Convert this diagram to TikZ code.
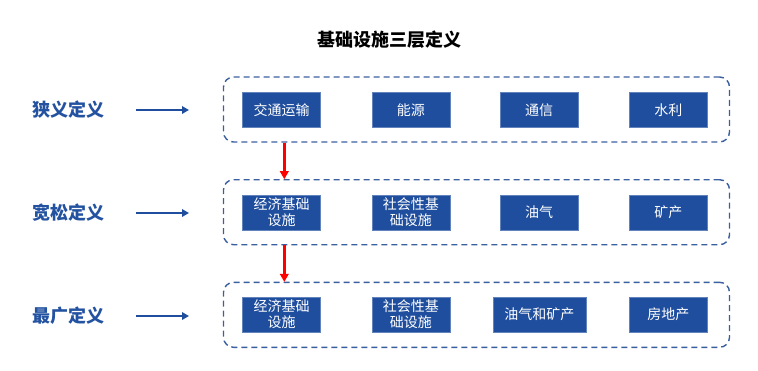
\documentclass[tikz,border=0pt]{standalone}
\usepackage{fontspec}
\newfontfamily\cjk{Noto Sans CJK SC}
\usetikzlibrary{arrows.meta}
\definecolor{boxblue}{HTML}{1F4E9E}
\definecolor{lblblue}{HTML}{2352A0}
\definecolor{dashblue}{HTML}{3A5FA0}
\tikzset{
  item/.style={fill=boxblue, draw=boxblue!70!white, line width=0.6pt, text=white, font=\cjk\fontsize{14}{16}\selectfont, align=center, inner sep=0pt},
  group/.style={draw=dashblue, line width=1.4pt, dash pattern=on 6pt off 4pt, rounded corners=10pt},
  lbl/.style={text=lblblue, font=\cjk\bfseries\fontsize{18}{20}\selectfont},
  barrow/.style={draw=boxblue, line width=2.4pt, -{Triangle[length=7pt,width=7.5pt]}},
  rarrow/.style={draw=red, line width=2.4pt, -{Triangle[length=8pt,width=8.5pt]}}
}
\begin{document}
\begin{tikzpicture}[x=1pt,y=-1pt]
\useasboundingbox (0,0) rectangle (758,370);
\node[font=\cjk\bfseries\fontsize{18}{20}\selectfont] (title) at (389,40) {基础设施三层定义};
% groups
\node[group, minimum width=506pt, minimum height=65pt] (g1) at (476.5,109.5) {};
\node[group, minimum width=506pt, minimum height=65pt] (g2) at (476.5,212.2) {};
\node[group, minimum width=506pt, minimum height=65pt] (g3) at (476.5,314.8) {};
% row 1
\node[item, minimum width=78pt, minimum height=35pt] (a1) at (281.7,110) {交通运输};
\node[item, minimum width=78pt, minimum height=35pt] (a2) at (410.8,110) {能源};
\node[item, minimum width=78pt, minimum height=35pt] (a3) at (539.2,110) {通信};
\node[item, minimum width=78pt, minimum height=35pt] (a4) at (668.3,110) {水利};
% row 2
\node[item, minimum width=78pt, minimum height=35pt] (b1) at (281.7,212.4) {经济基础\\设施};
\node[item, minimum width=78pt, minimum height=35pt] (b2) at (410.8,212.4) {社会性基\\础设施};
\node[item, minimum width=78pt, minimum height=35pt] (b3) at (539.2,212.4) {油气};
\node[item, minimum width=78pt, minimum height=35pt] (b4) at (668.3,212.4) {矿产};
% row 3
\node[item, minimum width=78pt, minimum height=35pt] (c1) at (281.7,314.5) {经济基础\\设施};
\node[item, minimum width=78pt, minimum height=35pt] (c2) at (410.8,314.5) {社会性基\\础设施};
\node[item, minimum width=93pt, minimum height=35pt] (c3) at (539.3,314.5) {油气和矿产};
\node[item, minimum width=78pt, minimum height=35pt] (c4) at (668.3,314.5) {房地产};
% labels
\node[lbl] (l1) at (68,110) {狭义定义};
\node[lbl] (l2) at (68,213) {宽松定义};
\node[lbl] (l3) at (68,316) {最广定义};
\coordinate (s1) at (136,110); \coordinate (e1) at (189,110);
\coordinate (s2) at (136,213); \coordinate (e2) at (189,213);
\coordinate (s3) at (136,316); \coordinate (e3) at (189,316);
\draw[barrow] (s1) -- (e1);
\draw[barrow] (s2) -- (e2);
\draw[barrow] (s3) -- (e3);
% red arrows
\draw[rarrow] (g1.south -| a1) ++(2.6,0) -- ++(0,36.5);
\draw[rarrow] (g2.south -| a1) ++(2.6,0) -- ++(0,36.5);
\end{tikzpicture}
\end{document}
